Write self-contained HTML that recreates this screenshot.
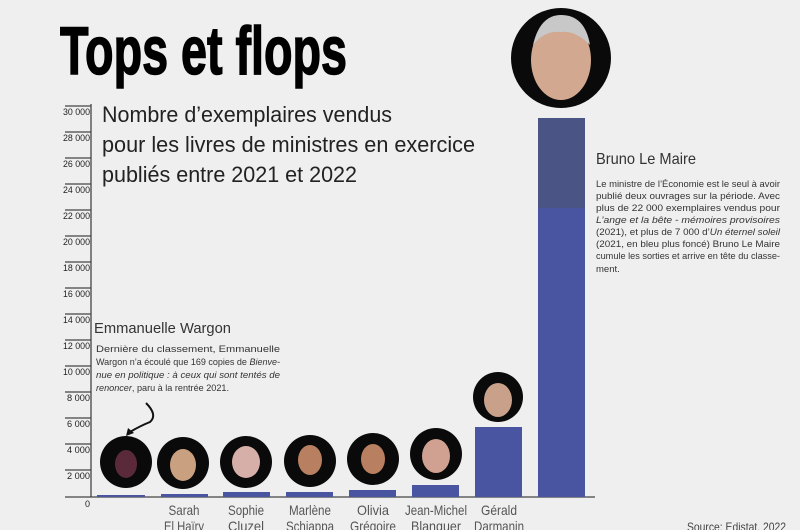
<!DOCTYPE html>
<html><head><meta charset="utf-8"><style>
html,body{margin:0;padding:0;background:#efefef;}
svg{display:block;}
text{font-family:"Liberation Sans",sans-serif;}
</style></head><body>
<svg width="800" height="530" viewBox="0 0 800 530" xmlns="http://www.w3.org/2000/svg">
<rect width="800" height="530" fill="#efefef"/>
<text x="60" y="74" font-size="68" font-weight="bold" stroke="#000" stroke-width="1.5" textLength="287" lengthAdjust="spacingAndGlyphs" fill="#000">Tops et flops</text>
<g font-size="22" fill="#222">
<text x="102" y="122" textLength="290" lengthAdjust="spacingAndGlyphs">Nombre d’exemplaires vendus</text>
<text x="102" y="152" textLength="373" lengthAdjust="spacingAndGlyphs">pour les livres de ministres en exercice</text>
<text x="102" y="182" textLength="255" lengthAdjust="spacingAndGlyphs">publiés entre 2021 et 2022</text>
</g>
<g stroke="#444" stroke-width="1.3">
<line x1="91" y1="104" x2="91" y2="497"/>
<line x1="65" y1="497" x2="595" y2="497"/>
<line x1="65" y1="106" x2="91" y2="106"/><line x1="65" y1="132" x2="91" y2="132"/>
<line x1="65" y1="158" x2="91" y2="158"/><line x1="65" y1="184" x2="91" y2="184"/>
<line x1="65" y1="210" x2="91" y2="210"/><line x1="65" y1="236" x2="91" y2="236"/>
<line x1="65" y1="262" x2="91" y2="262"/><line x1="65" y1="288" x2="91" y2="288"/>
<line x1="65" y1="314" x2="91" y2="314"/><line x1="65" y1="340" x2="91" y2="340"/>
<line x1="65" y1="366" x2="91" y2="366"/><line x1="65" y1="392" x2="91" y2="392"/>
<line x1="65" y1="418" x2="91" y2="418"/><line x1="65" y1="444" x2="91" y2="444"/>
<line x1="65" y1="470" x2="91" y2="470"/>
</g>
<g font-size="9" fill="#222" text-anchor="end">
<text x="90" y="115" textLength="27" lengthAdjust="spacingAndGlyphs">30 000</text><text x="90" y="141" textLength="27" lengthAdjust="spacingAndGlyphs">28 000</text><text x="90" y="167" textLength="27" lengthAdjust="spacingAndGlyphs">26 000</text>
<text x="90" y="193" textLength="27" lengthAdjust="spacingAndGlyphs">24 000</text><text x="90" y="219" textLength="27" lengthAdjust="spacingAndGlyphs">22 000</text><text x="90" y="245" textLength="27" lengthAdjust="spacingAndGlyphs">20 000</text>
<text x="90" y="271" textLength="27" lengthAdjust="spacingAndGlyphs">18 000</text><text x="90" y="297" textLength="27" lengthAdjust="spacingAndGlyphs">16 000</text><text x="90" y="323" textLength="27" lengthAdjust="spacingAndGlyphs">14 000</text>
<text x="90" y="349" textLength="27" lengthAdjust="spacingAndGlyphs">12 000</text><text x="90" y="375" textLength="27" lengthAdjust="spacingAndGlyphs">10 000</text><text x="90" y="401" textLength="23" lengthAdjust="spacingAndGlyphs">8 000</text>
<text x="90" y="427" textLength="23" lengthAdjust="spacingAndGlyphs">6 000</text><text x="90" y="453" textLength="23" lengthAdjust="spacingAndGlyphs">4 000</text><text x="90" y="479" textLength="23" lengthAdjust="spacingAndGlyphs">2 000</text>
<text x="90" y="507">0</text>
</g>
<g fill="#4a55a2">
<rect x="97" y="495" width="48" height="2"/>
<rect x="161" y="494" width="47" height="3"/>
<rect x="223" y="492" width="47" height="5"/>
<rect x="286" y="492" width="47" height="5"/>
<rect x="349" y="490" width="47" height="7"/>
<rect x="412" y="485" width="47" height="12"/>
<rect x="475" y="427" width="47" height="70"/>
<rect x="538" y="208" width="47" height="289"/>
</g>
<rect x="538" y="118" width="47" height="90" fill="#4b5585"/>
<g>
<circle cx="126" cy="462" r="26" fill="#0a0a0a"/><ellipse cx="126" cy="464" rx="11" ry="14" fill="#5a2a3a"/>
<circle cx="183" cy="463" r="26" fill="#0a0a0a"/><ellipse cx="183" cy="465" rx="13" ry="16" fill="#c9a080"/>
<circle cx="246" cy="462" r="26" fill="#0a0a0a"/><ellipse cx="246" cy="462" rx="14" ry="16" fill="#d6b0a8"/>
<circle cx="310" cy="461" r="26" fill="#0a0a0a"/><ellipse cx="310" cy="460" rx="12" ry="15" fill="#b88060"/>
<circle cx="373" cy="459" r="26" fill="#0a0a0a"/><ellipse cx="373" cy="459" rx="12" ry="15" fill="#b88060"/>
<circle cx="436" cy="454" r="26" fill="#0a0a0a"/><ellipse cx="436" cy="456" rx="14" ry="17" fill="#d0a090"/>
<circle cx="498" cy="397" r="25" fill="#0a0a0a"/><ellipse cx="498" cy="400" rx="14" ry="17" fill="#c9a08a"/>
<circle cx="561" cy="58" r="50" fill="#0a0a0a"/><ellipse cx="561" cy="60" rx="30" ry="40" fill="#d2a890"/>
<path d="M533 45 Q540 15 561 15 Q585 15 590 45 Q575 30 561 32 Q545 30 533 45Z" fill="#c8c8c8"/>
</g>
<path d="M146 403 Q158 415 150 422 Q140 426 130 432" fill="none" stroke="#111" stroke-width="2"/>
<path d="M126 436 L128 428 L134 433 Z" fill="#111"/>
<g font-size="14" fill="#555" text-anchor="middle">
<text x="184" y="515" textLength="31" lengthAdjust="spacingAndGlyphs">Sarah</text><text x="184" y="531" textLength="40" lengthAdjust="spacingAndGlyphs">El Haïry</text>
<text x="246" y="515" textLength="36" lengthAdjust="spacingAndGlyphs">Sophie</text><text x="246" y="531" textLength="36" lengthAdjust="spacingAndGlyphs">Cluzel</text>
<text x="310" y="515" textLength="42" lengthAdjust="spacingAndGlyphs">Marlène</text><text x="310" y="531" textLength="48" lengthAdjust="spacingAndGlyphs">Schiappa</text>
<text x="373" y="515" textLength="32" lengthAdjust="spacingAndGlyphs">Olivia</text><text x="373" y="531" textLength="46" lengthAdjust="spacingAndGlyphs">Grégoire</text>
<text x="436" y="515" textLength="62" lengthAdjust="spacingAndGlyphs">Jean-Michel</text><text x="436" y="531" textLength="50" lengthAdjust="spacingAndGlyphs">Blanquer</text>
<text x="499" y="515" textLength="36" lengthAdjust="spacingAndGlyphs">Gérald</text><text x="499" y="531" textLength="50" lengthAdjust="spacingAndGlyphs">Darmanin</text>
</g>
<text x="687" y="531" font-size="12" fill="#444" textLength="99" lengthAdjust="spacingAndGlyphs">Source: Edistat, 2022</text>
<text x="94" y="333" font-size="15" fill="#333" textLength="137" lengthAdjust="spacingAndGlyphs">Emmanuelle Wargon</text>
<g font-size="9.5" fill="#333">
<text x="96" y="352" textLength="184" lengthAdjust="spacingAndGlyphs">Dernière      du      classement,      Emmanuelle</text>
<text x="96" y="365" textLength="184" lengthAdjust="spacingAndGlyphs">Wargon n’a écoulé que 169 copies de <tspan font-style="italic">Bienve-</tspan></text>
<text x="96" y="378" textLength="184" lengthAdjust="spacingAndGlyphs" font-style="italic">nue en politique : à ceux qui sont tentés de</text>
<text x="96" y="391" textLength="133" lengthAdjust="spacingAndGlyphs"><tspan font-style="italic">renoncer</tspan>, paru à la rentrée 2021.</text>
</g>
<text x="596" y="164" font-size="16" fill="#333" textLength="100" lengthAdjust="spacingAndGlyphs">Bruno Le Maire</text>
<g font-size="9.5" fill="#333">
<text x="596" y="187" textLength="184" lengthAdjust="spacingAndGlyphs">Le ministre de l’Économie est le seul à avoir</text>
<text x="596" y="199" textLength="184" lengthAdjust="spacingAndGlyphs">publié deux ouvrages sur la période. Avec</text>
<text x="596" y="211" textLength="184" lengthAdjust="spacingAndGlyphs">plus de 22 000 exemplaires vendus pour</text>
<text x="596" y="223" textLength="184" lengthAdjust="spacingAndGlyphs" font-style="italic">L’ange et la bête - mémoires provisoires</text>
<text x="596" y="235" textLength="184" lengthAdjust="spacingAndGlyphs">(2021), et plus de 7 000 d’<tspan font-style="italic">Un éternel soleil</tspan></text>
<text x="596" y="247" textLength="184" lengthAdjust="spacingAndGlyphs">(2021, en bleu plus foncé) Bruno Le Maire</text>
<text x="596" y="259" textLength="184" lengthAdjust="spacingAndGlyphs">cumule les sorties et arrive en tête du classe-</text>
<text x="596" y="272">ment.</text>
</g>
</svg>
</body></html>
